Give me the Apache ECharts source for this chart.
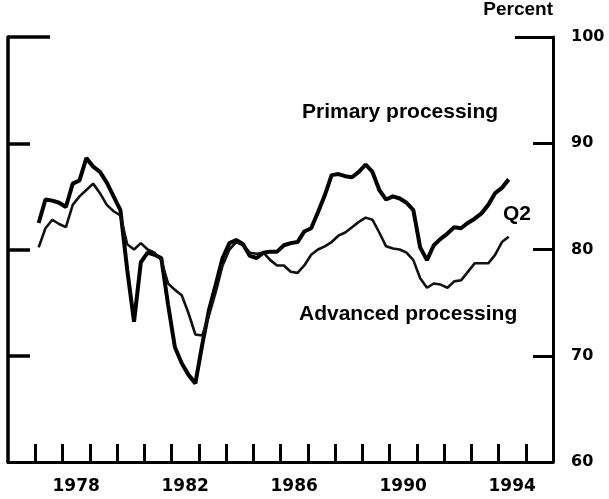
<!DOCTYPE html>
<html>
<head>
<meta charset="utf-8">
<script src="https://cdn.jsdelivr.net/npm/echarts@6/dist/echarts.min.js"></script>
<style>
  html, body { margin: 0; padding: 0; background: #fff; }
  #main { width: 609px; height: 499px; }
</style>
</head>
<body>
<div id="main"></div>
<script>
// quarterly data, 1977 Q1 .. 1994 Q2 (percent)
var firstYear = 1977;
var primary = [
    82.5, 84.7, 84.6, 84.4,   // 1977
    84.0, 86.2, 86.5, 88.6,   // 1978
    87.8, 87.3, 86.3, 85.0,   // 1979
    83.7, 78.1, 73.2, 78.8,   // 1980
    79.7, 79.5, 79.2, 74.8,   // 1981
    70.8, 69.3, 68.2, 67.4,   // 1982
    71.0, 74.3, 76.7, 79.2,   // 1983
    80.6, 80.9, 80.5, 79.4,   // 1984
    79.2, 79.7, 79.8, 79.8,   // 1985
    80.4, 80.6, 80.7, 81.7,   // 1986
    82.0, 83.5, 85.1, 87.0,   // 1987
    87.1, 86.9, 86.8, 87.3,   // 1988
    88.0, 87.3, 85.6, 84.7,   // 1989
    85.0, 84.8, 84.4, 83.7,   // 1990
    80.2, 79.0, 80.4, 81.0,   // 1991
    81.5, 82.1, 82.0, 82.5,   // 1992
    82.9, 83.4, 84.2, 85.3,   // 1993
    85.8, 86.6                // 1994
];
var advanced = [
    80.2, 82.0, 82.8, 82.4,
    82.1, 84.2, 85.0, 85.6,
    86.2, 85.3, 84.2, 83.6,
    83.2, 80.5, 80.0, 80.6,
    80.0, 79.7, 79.0, 76.8,
    76.2, 75.7, 74.0, 72.0,
    71.9, 73.8, 76.0, 78.5,
    80.0, 80.7, 80.4, 79.7,
    79.6, 79.7, 79.0, 78.5,
    78.5, 77.9, 77.8, 78.5,
    79.5, 80.0, 80.3, 80.7,
    81.3, 81.6, 82.1, 82.6,
    83.0, 82.8, 81.6, 80.3,
    80.1, 80.0, 79.7, 79.0,
    77.3, 76.4, 76.8, 76.7,
    76.4, 77.0, 77.1, 77.9,
    78.7, 78.7, 78.7, 79.5,
    80.7, 81.2
];
var yearLabels = [1978, 1982, 1986, 1990, 1994];
var yTicks = [70, 80, 90];

var numFont = 'DejaVu Sans';
var txtFont = 'Liberation Sans';

// quarter -> position on the year axis (middle of the quarter)
function toPairs(arr)
{
    var out = [];
    for (var i = 0; i < arr.length; i++) {
        var yr = firstYear + Math.floor(i / 4);
        var q = i % 4;
        out.push([yr + (q + 0.5) / 4, arr[i]]);
    }
    return out;
}

var tickYears = [];
for (var y = 1977; y <= 1995; y++) tickYears.push(y);

var myChart = echarts.init(document.getElementById('main'));

var baseY = {
    type: 'value', min: 60, max: 100, interval: 10,
    splitLine: { show: false },
    axisLabel: { show: false }
};

myChart.setOption({
    animation: false,
    backgroundColor: '#fff',
    grid: { left: 8, right: 56, top: 37, bottom: 37, outerBoundsMode: 'none' },
    xAxis: {
        type: 'value', min: 1976, max: 1996, interval: 1,
        splitLine: { show: false },
        axisLine: { lineStyle: { color: '#000', width: 3 } },
        axisTick: {
            inside: true, length: 18, customValues: tickYears,
            lineStyle: { color: '#000', width: 3 }
        },
        axisLabel: {
            customValues: yearLabels.map(function (v) { return v + 0.5; }),
            formatter: function (v) { return String(Math.floor(v)); },
            color: '#000', fontFamily: numFont, fontWeight: 'bold', fontSize: 17, margin: 16
        }
    },
    yAxis: [
        Object.assign({}, baseY, {
            position: 'right',
            axisLine: { show: true, lineStyle: { color: '#000', width: 3 } },
            axisTick: { inside: true, length: 20, customValues: yTicks, lineStyle: { color: '#000', width: 3 } },
            axisLabel: {
                show: true, customValues: [60, 70, 80, 90, 100],
                color: '#000', fontFamily: numFont, fontWeight: 'bold', fontSize: 16, margin: 18
            }
        }),
        Object.assign({}, baseY, {
            position: 'right',
            axisLine: { show: false },
            axisTick: { inside: true, length: 38, customValues: [100], lineStyle: { color: '#000', width: 3 } }
        }),
        Object.assign({}, baseY, {
            position: 'left',
            axisLine: { show: true, lineStyle: { color: '#000', width: 3.5 } },
            axisTick: { inside: true, length: 22, customValues: yTicks, lineStyle: { color: '#000', width: 3.5 } }
        }),
        Object.assign({}, baseY, {
            position: 'left',
            axisLine: { show: false },
            axisTick: { inside: true, length: 42, customValues: [100], lineStyle: { color: '#000', width: 3.5 } }
        })
    ],
    series: [
        {
            name: 'Primary processing', type: 'line', yAxisIndex: 0,
            data: toPairs(primary), showSymbol: false,
            lineStyle: { color: '#000', width: 4 }
        },
        {
            name: 'Advanced processing', type: 'line', yAxisIndex: 0,
            data: toPairs(advanced), showSymbol: false,
            lineStyle: { color: '#111', width: 2.6 }
        }
    ],
    graphic: [
        { type: 'text', x: 553, y: 10, style: { text: 'Percent', textAlign: 'right', textVerticalAlign: 'middle', font: 'bold 19px ' + txtFont, fill: '#000' } },
        { type: 'text', x: 302, y: 112, style: { text: 'Primary processing', textVerticalAlign: 'middle', font: 'bold 21px ' + txtFont, fill: '#000' } },
        { type: 'text', x: 503, y: 214, style: { text: 'Q2', textVerticalAlign: 'middle', font: 'bold 21px ' + txtFont, fill: '#000' } },
        { type: 'text', x: 299, y: 314, style: { text: 'Advanced processing', textVerticalAlign: 'middle', font: 'bold 21px ' + txtFont, fill: '#000' } }
    ]
});
</script>
</body>
</html>
